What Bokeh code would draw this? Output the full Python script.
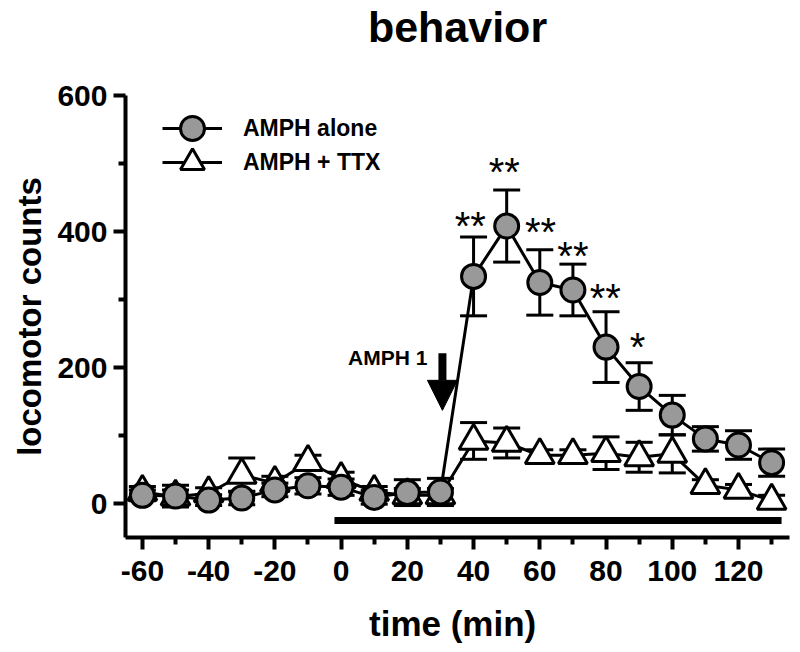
from bokeh.plotting import figure
from bokeh.models import (Whisker, TeeHead, Arrow, NormalHead, Label, Legend, LegendItem,
                          FixedTicker, ColumnDataSource, Range1d, Title)
from bokeh.core.properties import value
from bokeh.embed import file_html
from bokeh.resources import INLINE

# ---- data ----
time = [-60, -50, -40, -30, -20, -10, 0, 10, 20, 30, 40, 50, 60, 70, 80, 90, 100, 110, 120, 130]
amph_mean = [12, 11, 5, 8, 20, 26, 24, 9, 16, 17, 334, 408, 325, 314, 230, 172, 130, 95, 86, 60]
amph_sem = [8, 16, 8, 10, 10, 12, 12, 10, 19, 20, 58, 53, 48, 38, 52, 35, 29, 18, 21, 20]
ttx_mean = [17, 10, 15, 42, 30, 61, 36, 17, 12, 12, 92, 89, 71, 71, 74, 68, 73, 27, 20, 4]
ttx_sem = [8, 10, 8, 25, 10, 10, 10, 8, 10, 10, 27, 22, 8, 8, 24, 22, 28, 8, 8, 8]

x_ticks = [-60, -40, -20, 0, 20, 40, 60, 80, 100, 120]
x_minor = [-50, -30, -10, 10, 30, 50, 70, 90, 110, 130]
y_ticks = [0, 200, 400, 600]
y_minor = [100, 300, 500]

star_labels = ["**", "**", "**", "**", "**", "*"]
star_time = [39, 49.3, 60.2, 70, 79.8, 89.5]
star_level = [416, 495, 406, 372, 310, 237]

bar_start, bar_end, bar_level = -2, 133, -25
arrow_time, arrow_top, arrow_tip = 30.6, 221, 137
arrow_text = "AMPH 1"
arrow_text_level = 214

title_text = "behavior"
x_title = "time  (min)"
y_title = "locomotor counts"
series_names = ["AMPH alone", "AMPH + TTX"]

FONT = "Liberation Sans"

amph = ColumnDataSource(dict(t=time, m=amph_mean,
                             lo=[m - s for m, s in zip(amph_mean, amph_sem)],
                             hi=[m + s for m, s in zip(amph_mean, amph_sem)]))
ttx = ColumnDataSource(dict(t=time, m=ttx_mean,
                            lo=[m - s for m, s in zip(ttx_mean, ttx_sem)],
                            hi=[m + s for m, s in zip(ttx_mean, ttx_sem)]))

p = figure(width=792, height=650, output_backend="svg", toolbar_location=None,
           x_range=Range1d(-65.1, 135.4), y_range=Range1d(-50, 600),
           min_border_left=125, min_border_right=3, min_border_top=95, min_border_bottom=113)
p.outline_line_color = None
p.xgrid.grid_line_color = None
p.ygrid.grid_line_color = None

# real title, with a spacer title between it and the plot frame
p.title.text = title_text
p.title.align = "center"
p.title.text_font = FONT
p.title.text_font_size = "43px"
p.title.text_font_style = "bold"
p.title.text_color = "black"
p.title.standoff = 0
p.add_layout(Title(text=" ", text_font_size="1px", standoff=42), "above")

# TTX (triangles) first
p.add_layout(Whisker(source=ttx, base="t", lower="lo", upper="hi", line_width=3, line_color="black",
                     upper_head=TeeHead(size=27, line_width=3, line_color="black"),
                     lower_head=TeeHead(size=27, line_width=3, line_color="black")))
l2 = p.line("t", "m", source=ttx, line_width=3, line_color="black")
s2 = p.scatter("t", "m", source=ttx, marker="triangle", size=29, fill_color="white",
               line_color="black", line_width=3)

# AMPH alone (circles)
p.add_layout(Whisker(source=amph, base="t", lower="lo", upper="hi", line_width=3, line_color="black",
                     upper_head=TeeHead(size=27, line_width=3, line_color="black"),
                     lower_head=TeeHead(size=27, line_width=3, line_color="black")))
l1 = p.line("t", "m", source=amph, line_width=3, line_color="black")
s1 = p.scatter("t", "m", source=amph, marker="circle", size=24, fill_color="#999999",
               line_color="black", line_width=3)

# treatment bar
p.segment(x0=[bar_start], y0=[bar_level], x1=[bar_end], y1=[bar_level], line_width=7,
          line_color="black", line_cap="butt")

# significance stars
p.text(x=star_time, y=star_level, text=star_labels, text_font=value(FONT), text_font_size="40px",
       text_align="center", text_baseline="middle", y_offset=5, text_color="black")

# arrow + label
p.add_layout(Arrow(x_start=arrow_time, y_start=arrow_top, x_end=arrow_time, y_end=arrow_tip,
                   line_width=8, line_color="black",
                   end=NormalHead(size=30, fill_color="black", line_color="black", line_width=1)))
p.add_layout(Label(x=arrow_time, y=arrow_text_level, x_offset=-15, text=arrow_text, text_align="right",
                   text_baseline="middle", text_font=FONT, text_font_size="21px",
                   text_font_style="bold", text_color="black"))

# axes
for ax in (p.xaxis[0], p.yaxis[0]):
    ax.axis_line_width = 4
    ax.axis_line_color = "black"
    ax.major_tick_line_width = 4
    ax.minor_tick_line_width = 4
    ax.major_tick_line_color = "black"
    ax.minor_tick_line_color = "black"
    ax.major_tick_in = 0
    ax.minor_tick_in = 0
    ax.major_tick_out = 12
    ax.minor_tick_out = 7
    ax.major_label_text_font = FONT
    ax.major_label_text_font_size = "30px"
    ax.major_label_text_font_style = "bold"
    ax.major_label_text_color = "black"
    ax.axis_label_text_font = FONT
    ax.axis_label_text_font_style = "bold"
    ax.axis_label_text_color = "black"

p.xaxis.ticker = FixedTicker(ticks=x_ticks, minor_ticks=x_minor)
p.yaxis.ticker = FixedTicker(ticks=y_ticks, minor_ticks=y_minor)
p.xaxis.major_label_overrides = {t: str(t) for t in x_ticks}
p.yaxis.major_label_overrides = {t: str(t) for t in y_ticks}
p.xaxis.axis_label = x_title
p.yaxis.axis_label = y_title
p.xaxis.axis_label_text_font_size = "35px"
p.yaxis.axis_label_text_font_size = "33px"
p.xaxis.major_label_standoff = 11
p.xaxis.axis_label_standoff = 20
p.yaxis.major_label_standoff = 6
p.yaxis.axis_label_standoff = 6

common = dict(glyph_width=60, glyph_height=60, padding=0, margin=0, label_standoff=21,
              border_line_alpha=0, background_fill_alpha=0, label_text_font=FONT,
              label_text_font_size="23px", label_text_font_style="bold",
              label_text_color="black", label_text_baseline="middle")
leg1 = Legend(items=[LegendItem(label=series_names[0], renderers=[l1, s1])],
              location=(37, 379), **common)
leg2 = Legend(items=[LegendItem(label=series_names[1], renderers=[l2, s2])],
              location=(37, 345), **common)
p.add_layout(leg1)
p.add_layout(leg2)

open("out.html", "w").write(file_html(p, INLINE))
